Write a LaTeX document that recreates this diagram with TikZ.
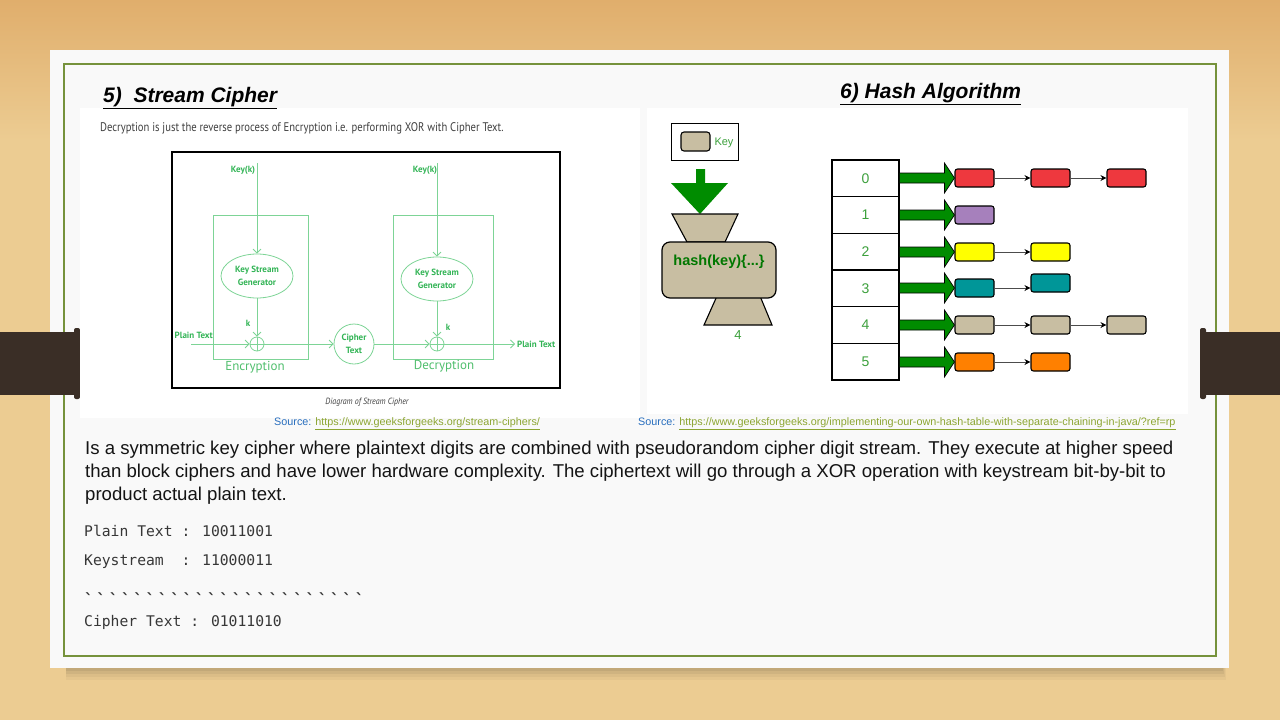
\documentclass[tikz,border=0pt]{standalone}
\usepackage{fontspec}
\setmainfont{Liberation Sans}
\newfontfamily\narrowfont{PT Sans}
\newfontfamily\codefont{DejaVu Sans Mono}
\usetikzlibrary{arrows.meta,calc,shapes.geometric}

\definecolor{wood}{RGB}{236,204,146}
\definecolor{woodtop}{RGB}{224,174,108}
\definecolor{band}{RGB}{58,46,38}
\definecolor{frame}{RGB}{118,146,60}
\definecolor{card}{RGB}{249,249,249}
\definecolor{sgreen}{RGB}{50,180,85}
\definecolor{sline}{RGB}{125,212,150}
\definecolor{hgreen}{RGB}{60,160,60}
\definecolor{fatgreen}{RGB}{0,140,0}
\definecolor{tanfill}{RGB}{200,190,162}
\definecolor{bred}{RGB}{238,56,62}
\definecolor{bpurple}{RGB}{166,128,188}
\definecolor{byellow}{RGB}{255,255,0}
\definecolor{bteal}{RGB}{0,150,152}
\definecolor{borange}{RGB}{255,128,0}
\definecolor{srcblue}{RGB}{40,110,190}
\definecolor{srcurl}{RGB}{140,165,50}
\definecolor{bodytext}{RGB}{20,20,20}
\definecolor{codetext}{RGB}{55,55,55}

\tikzset{
  title/.style={anchor=west,inner sep=0,font=\fontsize{21}{24}\selectfont\bfseries\itshape},
  slabel/.style={inner sep=0,text=sgreen,font=\narrowfont\bfseries\fontsize{9}{10}\selectfont},
  sbig/.style={inner sep=0,text=sgreen!85!white,font=\narrowfont\fontsize{13}{15}\selectfont},
  kgen/.style={ellipse,draw=sline,line width=0.8pt,minimum width=72pt,minimum height=44pt,inner sep=0,
    align=center,text=sgreen,font=\narrowfont\bfseries\fontsize{9}{13}\selectfont},
  xor/.style={circle,draw=sline,line width=0.8pt,minimum size=14pt,inner sep=0,
    path picture={\draw[sline,line width=0.8pt] (path picture bounding box.north) -- (path picture bounding box.south)
      (path picture bounding box.west) -- (path picture bounding box.east);}},
  ctext/.style={circle,draw=sline,line width=0.8pt,minimum size=40pt,inner sep=0,align=center,
    text=sgreen,font=\narrowfont\bfseries\fontsize{9}{13}\selectfont},
  sarrow/.style={sline,line width=0.8pt,-{Straight Barb[length=4pt,width=8pt]}},
  cell/.style={draw,line width=1.2pt,minimum width=67pt,minimum height=36.67pt,inner sep=0,
    text=hgreen,font=\fontsize{14}{16}\selectfont},
  bucket/.style={draw,line width=1.1pt,rounded corners=2.5pt,minimum width=39pt,minimum height=18pt,inner sep=0},
  link/.style={draw=black!70,line width=0.8pt,-{Stealth[length=6pt,width=6pt,black]}},
  fat/.style={fill=fatgreen,draw=black,line width=0.7pt},
  trap/.style={fill=tanfill,draw=black,line width=1.1pt},
  body/.style={anchor=west,inner sep=0,text=bodytext,font=\fontsize{18.6}{21}\selectfont},
  code/.style={anchor=west,inner sep=0,text=codetext,font=\codefont\fontsize{14.7}{17}\selectfont},
  src/.style={anchor=west,inner sep=0,font=\fontsize{10.8}{12}\selectfont}
}

% fat green arrow from a table cell to the first bucket of its chain
\newcommand\fatarrow[2]{%
  \filldraw[fat] ($(#1.east |- #2.west)+(0,-5)$) -- ($(#2.west)+(-10,-5)$) -- ($(#2.west)+(-10,-15)$)
    -- (#2.west) -- ($(#2.west)+(-10,15)$) -- ($(#2.west)+(-10,5)$) -- ($(#1.east |- #2.west)+(0,5)$) -- cycle;}

\begin{document}
\begin{tikzpicture}[x=1pt,y=-1pt]
\useasboundingbox (0,0) rectangle (1280,720);

% wooden backdrop
\fill[wood] (0,0) rectangle (1280,720);
\shade[top color=woodtop,bottom color=wood] (0,0) rectangle (1280,140);

% slide card with its shadow
\foreach \s/\o in {12/0.03,9/0.04,6/0.05,3/0.06}
  \fill[black,opacity=\o] (66,600) rectangle (1222+\s*0.3,668+\s);
\fill[card] (50,50) rectangle (1229,668);
\draw[frame,line width=2.5pt] (64,64) rectangle (1216,656);

% hanging bands
\fill[band] (0,332) rectangle (78,395);
\fill[band,rounded corners=2pt] (74,328) rectangle (80,399);
\fill[band] (1202,332) rectangle (1280,395);
\fill[band,rounded corners=2pt] (1200,328) rectangle (1206,399);

% white grounds of the two figures
\fill[white] (80,108) rectangle (640,418);
\fill[white] (647,108) rectangle (1188,414);

% titles
\node[title] (t5) at (103,98.5) {\underline{5)\ \ Stream Cipher}};
\node[title] (t6) at (840,94.5) {\underline{6) Hash Algorithm}};

% ---------- stream cipher figure ----------
\node[anchor=west,inner sep=0,text=black!75,font=\narrowfont\fontsize{12.5}{14}\selectfont] (intro) at (100,128)
  {\scalebox{0.85}[1]{Decryption is just the reverse process of Encryption i.e. performing XOR with Cipher Text.}};
\draw[line width=2pt] (172,152) rectangle (560,388);
\draw[sline,line width=0.8pt] (213,215) rectangle (308,359);
\draw[sline,line width=0.8pt] (393,215) rectangle (493,359);

\node[slabel] (key1) at (243,170) {Key(k)};
\coordinate (k1) at (257,163);
\node[kgen] (g1) at (257,276) {Key Stream\\Generator};
\node[xor] (x1) at (257,344) {};
\node[slabel] (kk1) at (248,323) {k};
\node[slabel,anchor=east] (pt1) at (213,335) {Plain Text};
\coordinate (pin) at (191,344);
\node[ctext] (ct) at (354,344) {Cipher\\Text};

\node[slabel] (key2) at (425,170) {Key(k)};
\coordinate (k2) at (437,163);
\node[kgen] (g2) at (437,279) {Key Stream\\Generator};
\node[xor] (x2) at (437,344) {};
\node[slabel] (kk2) at (448,327) {k};
\coordinate (pout) at (515,344);
\node[slabel,anchor=west] (pt2) at (517,344) {Plain Text};

\node[sbig] (enc) at (255,367) {Encryption};
\node[sbig] (dec) at (444,366) {Decryption};
\node[inner sep=0,text=black!75,font=\narrowfont\itshape\fontsize{9}{10}\selectfont] (cap) at (367,402)
  {\scalebox{0.88}[1]{Diagram of Stream Cipher}};

\draw[sarrow] (k1) -- (g1.north);
\draw[sarrow] (g1.south) -- (x1.north);
\draw[sarrow] (pin) -- (x1.west);
\draw[sarrow] (x1.east) -- (ct.west);
\draw[sarrow] (k2) -- (g2.north);
\draw[sarrow] (g2.south) -- (x2.north);
\draw[sarrow] (ct.east) -- (x2.west);
\draw[sarrow] (x2.east) -- (pout);

% ---------- hash figure ----------
\node[draw,line width=1pt,minimum width=67pt,minimum height=37pt,inner sep=0] (keybox) at (704.5,141.5) {};
\node[fill=tanfill,draw,line width=1.1pt,rounded corners=3pt,minimum width=29pt,minimum height=19pt,inner sep=0] (keyin) at (695.5,141.5) {};
\node[inner sep=0,text=hgreen,font=\fontsize{11}{13}\selectfont] (keylbl) at (724,143) {Key};
\fill[fatgreen] (696,169) -- (705,169) -- (705,183) -- (728,183) -- (700,214) -- (671,183) -- (696,183) -- cycle;
\filldraw[trap] (672,214) -- (738,214) -- (725,242) -- (687,242) -- cycle;
\filldraw[trap] (717,296) -- (760,296) -- (772,325) -- (704,325) -- cycle;
\node[fill=tanfill,draw,line width=1.2pt,rounded corners=8pt,minimum width=114pt,minimum height=56pt,inner sep=0] (hashbox) at (719,270) {};
\node[inner sep=0,text=fatgreen!85!black,font=\bfseries\fontsize{14.5}{16}\selectfont] (hashlbl) at (719,262) {hash(key)\{...\}};
\node[inner sep=0,text=hgreen,font=\fontsize{13}{15}\selectfont] (out4) at (738,335) {4};

\node[cell] (h0) at (865.5,178.3) {0};
\node[cell] (h1) at (865.5,215) {1};
\node[cell] (h2) at (865.5,251.7) {2};
\node[cell] (h3) at (865.5,288.3) {3};
\node[cell] (h4) at (865.5,325) {4};
\node[cell] (h5) at (865.5,361.7) {5};

\node[bucket,fill=bred] (b0a) at (974.5,178) {};
\node[bucket,fill=bred] (b0b) at (1050.5,178) {};
\node[bucket,fill=bred] (b0c) at (1126.5,178) {};
\node[bucket,fill=bpurple] (b1a) at (974.5,215) {};
\node[bucket,fill=byellow] (b2a) at (974.5,252) {};
\node[bucket,fill=byellow] (b2b) at (1050.5,252) {};
\node[bucket,fill=bteal] (b3a) at (974.5,288) {};
\node[bucket,fill=bteal] (b3b) at (1050.5,283) {};
\node[bucket,fill=tanfill] (b4a) at (974.5,325) {};
\node[bucket,fill=tanfill] (b4b) at (1050.5,325) {};
\node[bucket,fill=tanfill] (b4c) at (1126.5,325) {};
\node[bucket,fill=borange] (b5a) at (974.5,362) {};
\node[bucket,fill=borange] (b5b) at (1050.5,362) {};

\fatarrow{h0}{b0a}
\fatarrow{h1}{b1a}
\fatarrow{h2}{b2a}
\fatarrow{h3}{b3a}
\fatarrow{h4}{b4a}
\fatarrow{h5}{b5a}

\draw[link] (b0a) -- (b0b);
\draw[link] (b0b) -- (b0c);
\draw[link] (b2a) -- (b2b);
\draw[link] (b3a.east) -- (b3a.east -| b3b.west);
\draw[link] (b4a) -- (b4b);
\draw[link] (b4b) -- (b4c);
\draw[link] (b5a) -- (b5b);

% sources
\node[src] (src1) at (274,424) {\textcolor{srcblue}{Source:} \textcolor{srcurl}{\underline{https://www.geeksforgeeks.org/stream-ciphers/}}};
\node[src] (src2) at (638,424) {\textcolor{srcblue}{Source:} \textcolor{srcurl}{\underline{https://www.geeksforgeeks.org/implementing-our-own-hash-table-with-separate-chaining-in-java/?ref=rp}}};

% description
\node[body] (p1) at (85,450) {Is a symmetric key cipher where plaintext digits are combined with pseudorandom cipher digit stream. They execute at higher speed};
\node[body] (p2) at (85,473) {than block ciphers and have lower hardware complexity. The ciphertext will go through a XOR operation with keystream bit-by-bit to};
\node[body] (p3) at (85,496) {product actual plain text.};

\node[code] (c1) at (84,531) {Plain Text : 10011001};
\node[code] (c2) at (84,562) {Keystream\ \ : 11000011};
\node[code,font=\codefont\bfseries\fontsize{16}{17}\selectfont] (c3) at (84,599) {\foreach \i in {1,...,23}{\makebox[12.3pt][l]{\char96}}};
\node[code] (c4) at (84,622) {Cipher Text : 01011010};
\end{tikzpicture}
\end{document}
